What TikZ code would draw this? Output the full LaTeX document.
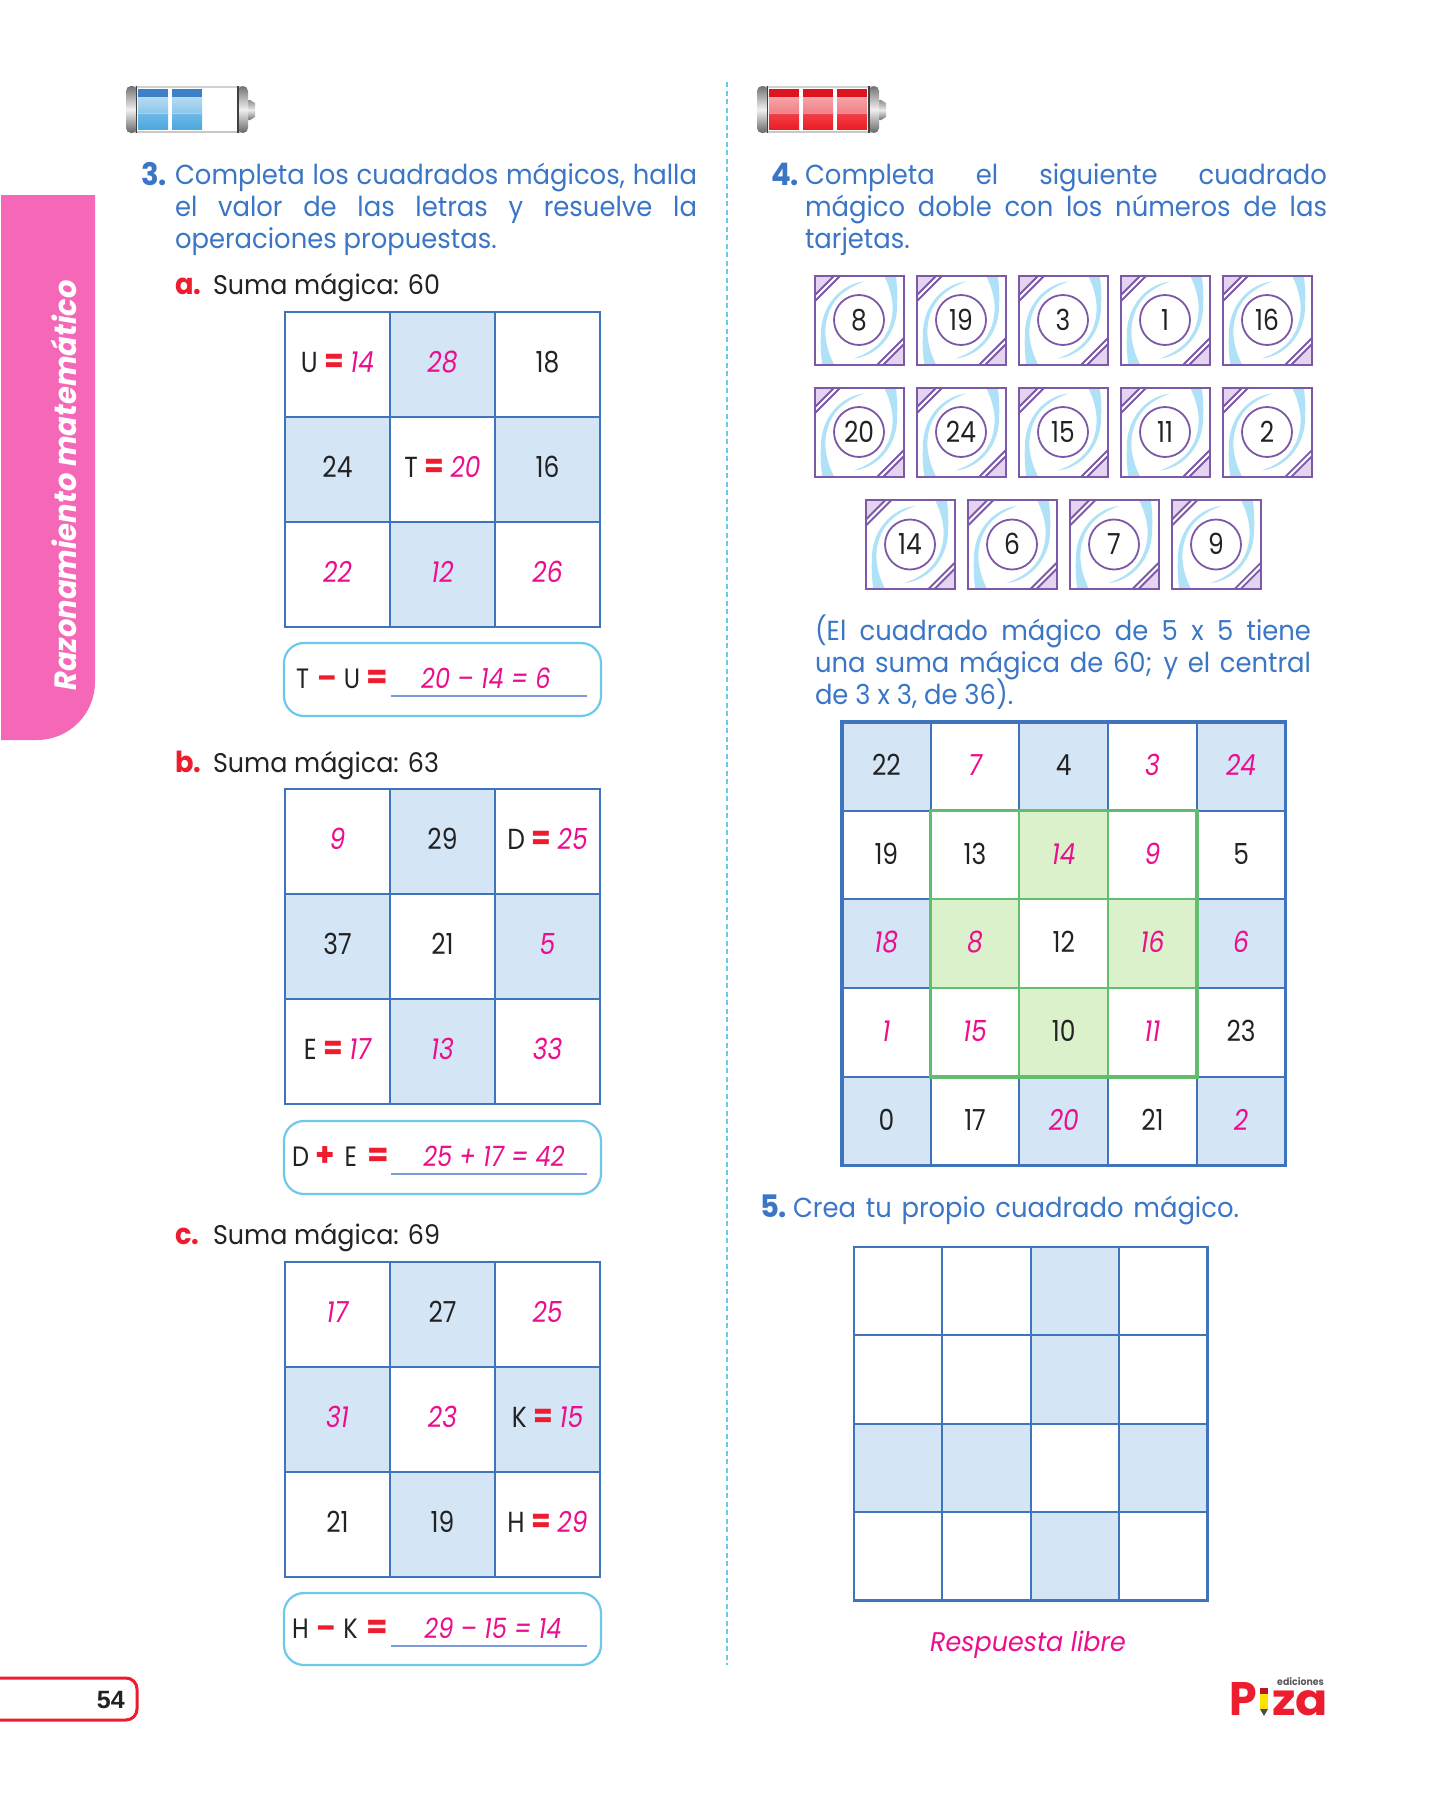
\documentclass[tikz,border=0pt]{standalone}
\usepackage{fontspec}
\setmainfont[FakeStretch=0.94]{Poppins}
\newfontfamily\numf[FakeStretch=0.86]{Poppins}
\newfontfamily\arialf{Liberation Sans}
\usetikzlibrary{calc}
\definecolor{gline}{HTML}{3F74BC}
\definecolor{gfill}{HTML}{D4E5F6}
\definecolor{pnk}{HTML}{EC0E8C}
\definecolor{ttl}{HTML}{3B76C6}
\definecolor{rd}{HTML}{ED1C2E}
\definecolor{grn}{HTML}{62BE6E}
\definecolor{gfl}{HTML}{DAF1CC}
\definecolor{cyn}{HTML}{6CC9EC}
\definecolor{uline}{HTML}{7D9ADB}
\definecolor{tab}{HTML}{F568B8}
\definecolor{prp}{HTML}{7B58A8}
\definecolor{prpl}{HTML}{E5D4F0}
\definecolor{swl}{HTML}{AFE2F6}
\definecolor{txt}{HTML}{222222}
\definecolor{bdark}{HTML}{3D80C8}\definecolor{blta}{HTML}{B8DCF2}\definecolor{bltb}{HTML}{8CC6EA}\definecolor{bloa}{HTML}{6DB9E6}\definecolor{blob}{HTML}{4DA8DE}
\definecolor{rdark}{HTML}{DB1420}\definecolor{rlta}{HTML}{F6A6A8}\definecolor{rltb}{HTML}{F08088}\definecolor{rloa}{HTML}{F04048}\definecolor{rlob}{HTML}{ED1C24}
\newcommand{\fs}[1]{\fontsize{#1}{#1}\selectfont}
\newcommand{\pk}[1]{\textcolor{pnk}{\itshape\numf #1}}
\newcommand{\req}{\textcolor{rd}{\fs{33}\bfseries=}}
\newcommand{\ev}[2]{{\numf #1}\hspace{7pt}\req\hspace{6pt}\pk{#2}}
\tikzset{
 x=1pt,y=-1pt,
 cellw/.style={draw=gline,line width=2,minimum size=#1,inner sep=0,outer sep=0,text=txt,font=\fs{29}\numf,text height=20,text depth=4},
 cellb/.style={cellw=#1,fill=gfill},
 cellg/.style={cellw=#1,fill=gfl},
 cellgrid/.style={draw=gline,line width=2},
 outerb/.style={draw=gline,line width=2.8},
 ttlline/.style={anchor=base west,inner sep=0,outer sep=0,font=\fs{27.5},text=ttl},
 numl/.style={anchor=base west,inner sep=0,outer sep=0,font=\fs{31}\bfseries,text=ttl},
 sub/.style={anchor=base west,inner sep=0,outer sep=0,font=\fs{27},text=txt},
 subl/.style={anchor=base west,inner sep=0,outer sep=0,font=\fs{29}\bfseries,text=rd},
 ansbox/.style={draw=cyn,line width=2.2,rounded corners=20,fill=white},
 anstxt/.style={anchor=base,inner sep=0,font=\fs{28},text=txt},
 card/.style={draw=prp,line width=2},
 cardnum/.style={circle,draw=prp,line width=1.8,minimum size=50,inner sep=0,text=txt,font=\fs{29}\numf,fill=white,text height=20,text depth=0},
}
\newcommand{\gridthree}[4]{%
 \foreach \c/\r/\t/\s in {#4}{
  \node[\s=105] (#1\c\r) at ({#2+52.5+105*\c},{#3+52.5+105*\r}) {\t};
 }
 \foreach \c in {0,1,2}{\foreach \r in {0,1,2}{\draw[cellgrid] (#1\c\r.north west) rectangle (#1\c\r.south east);}}
 \draw[outerb] (#100.north west) rectangle (#122.south east);
}
\newcommand{\card}[4]{% name,x,y,number
 \begin{scope}[shift={(#2,#3)}]
  \fill[white] (0,0) rectangle (89,89);
  \begin{scope}
   \clip (0,0) rectangle (89,89);
   \foreach \a in {0,180}{
    \begin{scope}[rotate around={\a:(44.5,44.5)}]
     \fill[swl] (50,6) .. controls (28,8) and (8,28) .. (6.5,55) .. controls (6,68) and (6,78) .. (8,90) -- (20,90) .. controls (11,72) and (8,55) .. (14,38) .. controls (19,23) and (32,12) .. (50,6) -- cycle;
    \end{scope}
   }
  \end{scope}
  \foreach \a in {0,180}{
   \begin{scope}[rotate around={\a:(44.5,44.5)}]
    \fill[prpl] (0,0) -- (20,0) -- (0,20) -- cycle;
    \draw[prp,line width=1.8] (20,0) -- (0,20);
    \draw[prp,line width=1.8] (26,0) -- (0,26);
   \end{scope}
  }
  \draw[card] (0,0) rectangle (89,89);
  \node[cardnum] (#1) at (44.5,44.5) {#4};
 \end{scope}
}
\newcommand{\battery}[3]{% x, n, colour prefix
 \begin{scope}[shift={(#1,86)}]
  \fill[white] (6,1) rectangle (116,46);
  \draw[black!18,line width=1.5] (6,1) -- (116,1);
  \draw[black!22,line width=2] (6,45.5) -- (116,45.5);
  \shade[top color=black!45,bottom color=black!55,middle color=black!8] (111,14) -- (124,14) -- (129,17) -- (129,31) -- (124,34) -- (111,34) -- cycle;
  \shade[top color=black!55,bottom color=black!60,middle color=black!6,rounded corners=5] (0,0) rectangle (11,47);
  \shade[top color=black!55,bottom color=black!60,middle color=black!6,rounded corners=5] (112,0) rectangle (122,47);
  \draw[black!75,line width=1.4] (10.5,0) -- (10.5,47);
  \draw[black!75,line width=1.4] (112,0) -- (112,47);
  \foreach \i in {1,...,#2}{
   \pgfmathsetmacro{\xa}{12+34*(\i-1)}
   \shade[top color=#3lta,bottom color=#3ltb] (\xa,10) rectangle ++(30,17);
   \fill[#3dark] (\xa,3) rectangle ++(30,8);
   \shade[top color=#3loa,bottom color=#3lob] (\xa,27) rectangle ++(30,16);
   \draw[white,opacity=.4] (\xa,27) -- ++(30,0);
  }
 \end{scope}
}
\begin{document}
\begin{tikzpicture}
\useasboundingbox (0,0) rectangle (1452,1800);
\fill[white] (0,0) rectangle (1452,1800);
% side tab
\fill[tab] (1,195) -- (95,195) -- (95,682) arc[start angle=0,end angle=90,radius=58] -- (1,740) -- cycle;
\node[rotate=90,anchor=base west,inner sep=0,text=white,font=\fs{30.8}\bfseries\itshape] (tabtxt) at (76,691) {Razonamiento matemático};
% column divider
\draw[cyn,line width=1.5,dash pattern=on 5 off 3.5] (727,82) -- (727,1665);
% batteries
\battery{126}{2}{b}
\battery{757}{3}{r}
% exercise 3
\node[numl] (n3) at (141,185) {3.};
\node[ttlline] (l31) at (175,184) {\makebox[522pt][s]{Completa los cuadrados mágicos, halla}};
\node[ttlline] (l32) at (175,216) {\makebox[522pt][s]{el valor de las letras y resuelve la}};
\node[ttlline] (l33) at (175,248) {operaciones propuestas.};
\node[subl] (sa) at (175,294) {a.};
\node[sub] (ta) at (213,294) {Suma mágica: 60};
\gridthree{a}{285}{312}{0/0/{\ev{U}{14}}/cellw,1/0/{\pk{28}}/cellb,2/0/{18}/cellw,0/1/{24}/cellb,1/1/{\ev{T}{20}}/cellw,2/1/{16}/cellb,0/2/{\pk{22}}/cellw,1/2/{\pk{12}}/cellb,2/2/{\pk{26}}/cellw}
\draw[ansbox] (284,643) rectangle (601,716);
\node[anstxt,anchor=base west] (ea) at (296,688) {{\numf T}\hspace{8pt}\textcolor{rd}{\bfseries\fs{30}–}\hspace{7pt}{\numf U}\hspace{6pt}\req};
\coordinate (ula) at (391,696); \coordinate (ulb) at (587,696);
\draw[uline,line width=1.8] (ula) -- (ulb);
\node[anstxt] (ra) at (486,688) {\pk{20 – 14 = 6}};

\node[subl] (sb) at (175,772) {b.};
\node[sub] (tb) at (213,772) {Suma mágica: 63};
\gridthree{b}{285}{789}{0/0/{\pk{9}}/cellw,1/0/{29}/cellb,2/0/{\ev{D}{25}}/cellw,0/1/{37}/cellb,1/1/{21}/cellw,2/1/{\pk{5}}/cellb,0/2/{\ev{E}{17}}/cellw,1/2/{\pk{13}}/cellb,2/2/{\pk{33}}/cellw}
\draw[ansbox] (284,1121) rectangle (601,1194);
\node[anstxt,anchor=base west] (eb) at (292,1166) {{\numf D}\hspace{6pt}\textcolor{rd}{\bfseries\fs{33}+}\hspace{10pt}{\numf E}\hspace{10pt}\req};
\coordinate (ulc) at (391,1174); \coordinate (uld) at (587,1174);
\draw[uline,line width=1.8] (ulc) -- (uld);
\node[anstxt] (rb) at (494,1166) {\pk{25 + 17 = 42}};

\node[subl] (sc) at (175,1244) {c.};
\node[sub] (tc) at (213,1244) {Suma mágica: 69};
\gridthree{c}{285}{1262}{0/0/{\pk{17}}/cellw,1/0/{27}/cellb,2/0/{\pk{25}}/cellw,0/1/{\pk{31}}/cellb,1/1/{\pk{23}}/cellw,2/1/{\ev{K}{15}}/cellb,0/2/{21}/cellw,1/2/{19}/cellb,2/2/{\ev{H}{29}}/cellw}
\draw[ansbox] (284,1593) rectangle (601,1665);
\node[anstxt,anchor=base west] (ec) at (292,1638) {{\numf H}\hspace{8pt}\textcolor{rd}{\bfseries\fs{30}–}\hspace{7pt}{\numf K}\hspace{9pt}\req};
\coordinate (ule) at (391,1646); \coordinate (ulf) at (587,1646);
\draw[uline,line width=1.8] (ule) -- (ulf);
\node[anstxt] (rc) at (493,1638) {\pk{29 – 15 = 14}};

% exercise 4
\node[numl] (n4) at (771,185) {4.};
\node[ttlline] (l41) at (805,184) {\makebox[522pt][s]{Completa el siguiente cuadrado}};
\node[ttlline] (l42) at (805,216) {\makebox[522pt][s]{mágico doble con los números de las}};
\node[ttlline] (l43) at (805,248) {tarjetas.};
\foreach \i/\n in {0/8,1/19,2/3,3/1,4/16}{\card{ca\i}{814.5+102*\i}{275.5}{\n}}
\foreach \i/\n in {0/20,1/24,2/15,3/11,4/2}{\card{cb\i}{814.5+102*\i}{387.5}{\n}}
\foreach \i/\n in {0/14,1/6,2/7,3/9}{\card{cc\i}{865.5+102*\i}{500}{\n}}
\node[ttlline] (p1) at (815,640) {\makebox[496pt][s]{(El cuadrado mágico de 5 x 5 tiene}};
\node[ttlline] (p2) at (815,672) {\makebox[496pt][s]{una suma mágica de 60; y el central}};
\node[ttlline] (p3) at (815,704) {de 3 x 3, de 36).};
% 5x5
\foreach \c/\r/\t/\s in {0/0/{22}/cellb,1/0/{\pk{7}}/cellw,2/0/{4}/cellb,3/0/{\pk{3}}/cellw,4/0/{\pk{24}}/cellb,
 0/1/{19}/cellw,1/1/{13}/cellw,2/1/{\pk{14}}/cellg,3/1/{\pk{9}}/cellw,4/1/{5}/cellw,
 0/2/{\pk{18}}/cellb,1/2/{\pk{8}}/cellg,2/2/{12}/cellw,3/2/{\pk{16}}/cellg,4/2/{\pk{6}}/cellb,
 0/3/{\pk{1}}/cellw,1/3/{\pk{15}}/cellw,2/3/{10}/cellg,3/3/{\pk{11}}/cellw,4/3/{23}/cellw,
 0/4/{0}/cellb,1/4/{17}/cellw,2/4/{\pk{20}}/cellb,3/4/{21}/cellw,4/4/{\pk{2}}/cellb}{
 \node[\s=88.7,text depth=2] (m\c\r) at ({842+44.35+88.7*\c},{722+44.35+88.7*\r}) {\t};
}
\foreach \c in {0,...,4}{\foreach \r in {0,...,4}{\draw[cellgrid] (m\c\r.north west) rectangle (m\c\r.south east);}}
\draw[outerb,line width=3.6] (m00.north west) rectangle (m44.south east);
\foreach \c/\r in {1/1,2/1,3/1,1/2,2/2,3/2,1/3,2/3,3/3}{\draw[grn,line width=2] (m\c\r.north west) rectangle (m\c\r.south east);}
\draw[grn,line width=3.4] (m11.north west) rectangle (m33.south east);
% exercise 5
\node[numl] (n5) at (760,1217) {5.};
\node[ttlline] (l5) at (793,1217) {\makebox[446pt][s]{Crea tu propio cuadrado mágico.}};
\foreach \c/\r/\s in {0/0/cellw,1/0/cellw,2/0/cellb,3/0/cellw,0/1/cellw,1/1/cellw,2/1/cellb,3/1/cellw,0/2/cellb,1/2/cellb,2/2/cellw,3/2/cellb,0/3/cellw,1/3/cellw,2/3/cellb,3/3/cellw}{
 \node[\s=88.4] (f\c\r) at ({854+44.2+88.4*\c},{1247+44.2+88.4*\r}) {};
}
\foreach \c in {0,...,3}{\foreach \r in {0,...,3}{\draw[cellgrid] (f\c\r.north west) rectangle (f\c\r.south east);}}
\draw[outerb] (f00.north west) rectangle (f33.south east);
\node[anchor=center,inner sep=0,font=\fs{27}\itshape,text=pnk] (resp) at (1028,1645) {Respuesta libre};
% page number
\draw[rd,line width=3] (0,1678) -- (126,1678) arc[start angle=-90,end angle=0,radius=11] -- ++(0,20) arc[start angle=0,end angle=90,radius=11] -- (0,1720);
\node[anchor=base east,inner sep=0,font=\fs{25}\arialf\bfseries,text=txt] (pg) at (125,1708) {54};
% logo
\node[anchor=base west,inner sep=0,font=\fs{10}\bfseries,text=black!65] (ed) at (1277,1685.5) {ediciones};
\node[anchor=base west,inner sep=0,font=\fs{47}\bfseries,text=rd] (lp) at (1229,1715) {P};
\node[anchor=base west,inner sep=0,font=\fs{44}\bfseries,text=rd] (lz) at (1272,1715) {\scalebox{1.15}[1]{za}};
\fill[yellow!85!orange] (1260,1694) rectangle (1268,1709);
\fill[black!70] (1260,1709) -- (1268,1709) -- (1264,1716) -- cycle;
\fill[rd!80!black] (1260,1688) rectangle (1268,1694);
\end{tikzpicture}
\end{document}
